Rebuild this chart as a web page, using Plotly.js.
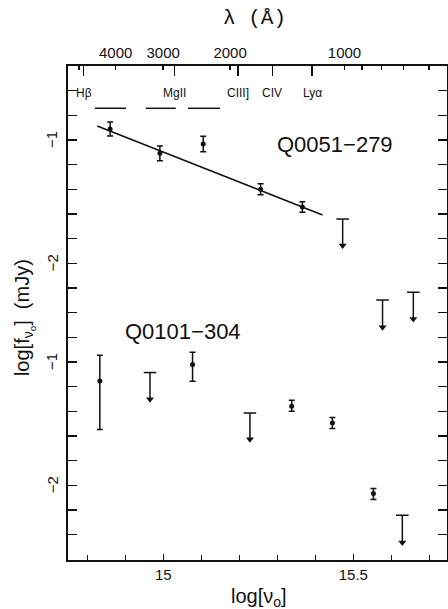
<!DOCTYPE html>
<html><head><meta charset="utf-8">
<script src="https://cdn.plot.ly/plotly-3.0.1.min.js"></script>
<style>html,body{margin:0;padding:0;background:#fff}#chart{width:448px;height:609px}</style>
</head><body><div id="chart"></div>
<script>
// ---- data ----
const C_ANG = 2.998e18; // speed of light, Angstrom/s
// top axis wavelength ticks (Angstrom)
const waveLabelTicks = [4000, 3000, 2000, 1000];
const waveLabelText = ['4000', '3000', '2000', '1000'];
const waveMinorTicks = [5000, 900, 800, 700, 600];
// emission lines
const lineNames = ['H\u03b2', 'MgII', 'CIII]', 'CIV', 'Ly\u03b1'];
const lineWaves = [4861, 2798, 1909, 1549, 1216];

// Q0051-279 detections
const q1X = [14.860, 14.991, 15.105, 15.256, 15.366];
const q1Y = [-0.911, -1.108, -1.032, -1.400, -1.543];
const q1Err = [0.057, 0.060, 0.063, 0.045, 0.043];
// Q0051-279 upper limits
const q1UlX = [15.472, 15.577, 15.658];
const q1UlTop = [-1.641, -2.298, -2.235];
const q1UlTip = [-1.878, -2.541, -2.474];
// power-law fit
const fitX = [14.826, 15.419];
const fitY = [-0.886, -1.608];
// bandpass bars
const bandX0 = [14.820, 14.954, 15.065];
const bandX1 = [14.902, 15.033, 15.149];
const bandY = -0.743;

// Q0101-304 (values in its own labelled scale; plotted with offset)
const q2Offset = -1.8;
const q2X = [14.833, 15.077, 15.338, 15.445, 15.553];
const q2Y = [-1.154, -1.021, -1.359, -1.495, -2.067];
const q2ErrPlus = [0.208, 0.100, 0.049, 0.044, 0.040];
const q2ErrMinus = [0.394, 0.136, 0.041, 0.045, 0.049];
const q2UlX = [14.965, 15.228, 15.629];
const q2UlTop = [-1.086, -1.414, -2.243];
const q2UlTip = [-1.324, -1.649, -2.487];

// axes ticks
const xLabelVals = [15.0, 15.5];
const xLabelText = ['15', '15.5'];
const xMinorVals = [14.8, 14.9, 15.1, 15.2, 15.3, 15.4, 15.6, 15.7];
const yMinorVals = [-4.4, -4.2, -4.0, -3.6, -3.4, -3.2, -3.0, -2.6, -2.4, -2.2, -1.8, -1.6, -1.4, -1.2, -0.8, -0.6];
const yMajorVals = [-1.0, -2.0, -2.8, -3.8];
const yMajorText = ['\u22121', '\u22122', '\u22121', '\u22122'];

const XR = [14.7492, 15.7466];
const YR = [-4.406, -0.400];

const lognu = l => Math.log10(C_ANG / l);
const FONT = 'Liberation Sans, Arial, sans-serif';
const BLACK = '#111';

const traces = [];
traces.push({x: fitX, y: fitY, mode: 'lines', line: {color: BLACK, width: 1.5}, hoverinfo: 'skip'});
const bx = [], by = [];
for (let i = 0; i < bandX0.length; i++) { bx.push(bandX0[i], bandX1[i], null); by.push(bandY, bandY, null); }
traces.push({x: bx, y: by, mode: 'lines', line: {color: BLACK, width: 1.5}, hoverinfo: 'skip'});
traces.push({x: q1X, y: q1Y, mode: 'markers', marker: {color: BLACK, size: 5},
  error_y: {type: 'data', array: q1Err, symmetric: true, color: BLACK, thickness: 1.5, width: 3}});
traces.push({x: q2X, y: q2Y.map(v => v + q2Offset), mode: 'markers', marker: {color: BLACK, size: 5},
  error_y: {type: 'data', array: q2ErrPlus, arrayminus: q2ErrMinus, symmetric: false, color: BLACK, thickness: 1.5, width: 3}});
// upper limits: bar at top, stem, arrowhead at tip
const ulX = q1UlX.concat(q2UlX);
const ulTop = q1UlTop.concat(q2UlTop.map(v => v + q2Offset));
const ulTip = q1UlTip.concat(q2UlTip.map(v => v + q2Offset));
const sx = [], sy = [];
for (let i = 0; i < ulX.length; i++) { sx.push(ulX[i], ulX[i], null); sy.push(ulTop[i], ulTip[i] + 0.03, null); }
traces.push({x: sx, y: sy, mode: 'lines', line: {color: BLACK, width: 1.5}, hoverinfo: 'skip'});
traces.push({x: ulX, y: ulTop, mode: 'markers', marker: {symbol: 'line-ew', size: 9, line: {color: BLACK, width: 1.5}}});
traces.push({x: ulX, y: ulTip.map(v => v + 0.022), mode: 'markers',
  marker: {symbol: 'triangle-down', size: 7, color: BLACK, line: {width: 0}}});
traces.push({x: [XR[0]], y: [YR[0]], xaxis: 'x2', yaxis: 'y', mode: 'markers', marker: {opacity: 0}, hoverinfo: 'skip'});
traces.push({x: [XR[0]], y: [YR[0]], xaxis: 'x3', yaxis: 'y', mode: 'markers', marker: {opacity: 0}, hoverinfo: 'skip'});

const annotations = [];
for (let i = 0; i < lineNames.length; i++) {
  annotations.push({x: lognu(lineWaves[i]), y: 0.946, xref: 'x', yref: 'paper', text: lineNames[i], showarrow: false,
    font: {family: FONT, size: 12, color: BLACK}, xanchor: 'center', yanchor: 'middle'});
}
// y tick labels (rotated)
for (let i = 0; i < yMajorVals.length; i++) {
  annotations.push({x: -0.042, y: yMajorVals[i], xref: 'paper', yref: 'y', text: yMajorText[i], showarrow: false,
    textangle: -90, font: {family: FONT, size: 15, color: BLACK}, xanchor: 'center', yanchor: 'middle'});
}
annotations.push({x: 15.452, y: -1.04, xref: 'x', yref: 'y', text: 'Q0051\u2212279', showarrow: false,
  font: {family: FONT, size: 22, color: BLACK}, xanchor: 'center', yanchor: 'middle'});
annotations.push({x: 15.052, y: -2.555, xref: 'x', yref: 'y', text: 'Q0101\u2212304', showarrow: false,
  font: {family: FONT, size: 22, color: BLACK}, xanchor: 'center', yanchor: 'middle'});
annotations.push({x: 0.493, y: 1.097, xref: 'paper', yref: 'paper', text: '\u03bb (\u00c5)', showarrow: false,
  font: {family: 'Liberation Mono, Courier New, monospace', size: 21, color: BLACK}, xanchor: 'center', yanchor: 'middle'});
annotations.push({x: 0.504, y: -0.075, xref: 'paper', yref: 'paper', text: 'log[\u03bd<sub>o</sub>]', showarrow: false,
  font: {family: FONT, size: 20, color: BLACK}, xanchor: 'center', yanchor: 'middle'});
annotations.push({x: -0.113, y: 0.49, xref: 'paper', yref: 'paper', text: 'log[f<sub>\u03bd<sub>o</sub></sub>]  (mJy)', showarrow: false,
  textangle: -90, font: {family: FONT, size: 20, color: BLACK}, xanchor: 'center', yanchor: 'middle'});

const layout = {
  width: 448, height: 609,
  margin: {l: 68, r: 1, t: 66, b: 49},
  paper_bgcolor: '#fff', plot_bgcolor: '#fff',
  showlegend: false,
  font: {family: FONT, color: BLACK},
  xaxis: {range: XR, tickmode: 'array', tickvals: xLabelVals, ticktext: xLabelText, ticks: 'inside', ticklen: 6,
    tickwidth: 1.5, tickcolor: BLACK, showline: true, linewidth: 2, linecolor: BLACK, mirror: true,
    minor: {tickmode: 'array', tickvals: xMinorVals, ticks: 'inside', ticklen: 5, tickwidth: 1.5, tickcolor: BLACK},
    showgrid: false, zeroline: false, tickfont: {size: 15, family: FONT, color: BLACK}},
  xaxis2: {overlaying: 'x', side: 'top', range: XR, tickmode: 'array', tickvals: waveLabelTicks.map(lognu), ticktext: waveLabelText,
    ticks: 'inside', ticklen: 4, tickwidth: 1.5, tickcolor: BLACK, showline: true, linewidth: 2, linecolor: BLACK,
    minor: {tickmode: 'array', tickvals: waveMinorTicks.map(lognu), ticks: 'inside', ticklen: 4, tickwidth: 1.5, tickcolor: BLACK},
    showgrid: false, zeroline: false, tickfont: {size: 15, family: FONT, color: BLACK}},
  xaxis3: {overlaying: 'x', side: 'top', range: XR, tickmode: 'array', tickvals: lineWaves.map(lognu),
    ticks: 'inside', ticklen: 10, tickwidth: 1.5, tickcolor: BLACK, showticklabels: false, showline: false,
    showgrid: false, zeroline: false},
  yaxis: {range: YR, tickmode: 'array', tickvals: yMajorVals, showticklabels: false, ticks: 'inside', ticklen: 9,
    tickwidth: 1.5, tickcolor: BLACK, showline: true, linewidth: 2, linecolor: BLACK, mirror: 'allticks',
    minor: {tickmode: 'array', tickvals: yMinorVals, ticks: 'inside', ticklen: 5, tickwidth: 1.5, tickcolor: BLACK},
    showgrid: false, zeroline: false},
  annotations: annotations
};
Plotly.newPlot('chart', traces, layout, {staticPlot: true, displayModeBar: false});
</script></body></html>
